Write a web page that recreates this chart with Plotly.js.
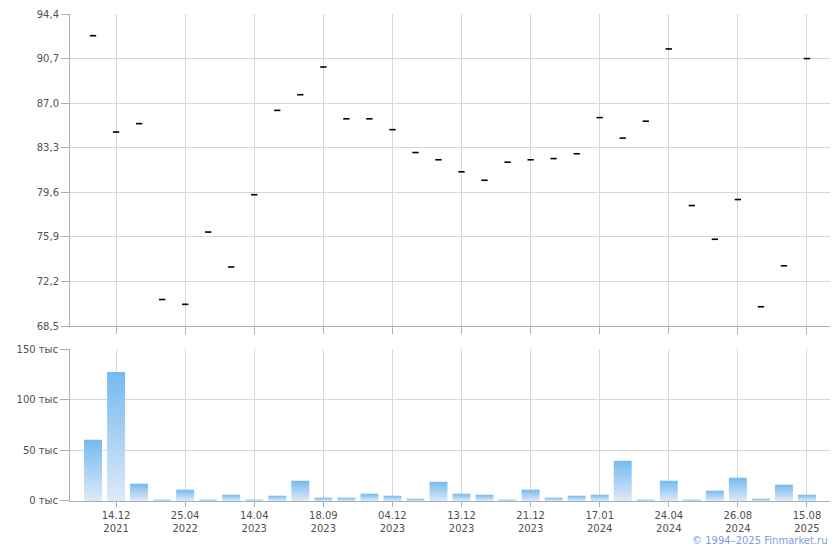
<!DOCTYPE html>
<html>
<head>
<meta charset="utf-8">
<script src="https://cdn.plot.ly/plotly-3.0.1.min.js"></script>
<style>
  html, body { margin: 0; padding: 0; background: #fff; }
  #chart { width: 840px; height: 550px; }
</style>
</head>
<body>
<div id="chart"></div>
<script>
// Closing prices (one per trading session shown)
const closes = [92.6, 84.6, 85.3, 70.7, 70.3, 76.3, 73.4, 79.4, 86.4, 87.7,
  90.0, 85.7, 85.7, 84.8, 82.9, 82.3, 81.3, 80.6, 82.1, 82.3,
  82.4, 82.8, 85.8, 84.1, 85.5, 91.5, 78.5, 75.7, 79.0, 70.1,
  73.5, 90.7];
// Volumes, thousands
const volumes = [60.5, 127.3, 17.1, 1.3, 11.2, 1.3, 6.2, 1.3, 5.2, 20.0,
  3.3, 3.3, 7.2, 5.2, 2.3, 19.0, 7.2, 6.2, 1.3, 11.2,
  3.3, 5.2, 6.2, 39.7, 1.3, 20.0, 1.3, 10.2, 23.0, 2.3,
  16.1, 6.2];
// Date tick labels (every third session)
const tickPositions = [1, 4, 7, 10, 13, 16, 19, 22, 25, 28, 31];
const tickDates = ["14.12", "25.04", "14.04", "18.09", "04.12", "13.12", "21.12", "17.01", "24.04", "26.08", "15.08"];
const tickYears = ["2021", "2022", "2023", "2023", "2023", "2023", "2023", "2024", "2024", "2024", "2025"];
const priceTicks = [68.5, 72.2, 75.9, 79.6, 83.3, 87.0, 90.7, 94.4];
const volumeTicks = [0, 50, 100, 150];

const idx = closes.map((_, i) => i);
const BAR_HALF = 0.39;

const traces = [{
  type: 'scatter', mode: 'markers',
  x: idx, y: closes, xaxis: 'x', yaxis: 'y',
  marker: { symbol: 'line-ew', size: 4.5, color: '#000', line: { width: 1.6, color: '#000' } },
  hoverinfo: 'x+y', showlegend: false
}];

volumes.forEach((v, i) => {
  const val = v * 1000;
  traces.push({
    type: 'scatter', mode: 'lines',
    x: [i - BAR_HALF, i - BAR_HALF, i + BAR_HALF, i + BAR_HALF, i - BAR_HALF],
    y: [0, val, val, 0, 0],
    xaxis: 'x2', yaxis: 'y2',
    fill: 'toself',
    fillcolor: '#a9d2f4',
    fillgradient: { type: 'vertical', colorscale: [[0, '#dde9f7'], [1, '#74baf0']] },
    line: { width: 0, color: 'rgba(0,0,0,0)' },
    hoverinfo: 'skip', showlegend: false
  });
});

const gridc = '#d3d9de';
const linec = '#a8b0b8';
const fontc = '#505050';

const layout = {
  width: 840, height: 550,
  margin: { l: 70, r: 10, t: 14, b: 49 },
  paper_bgcolor: '#fff', plot_bgcolor: '#fff',
  font: { family: 'DejaVu Sans, Verdana, sans-serif', size: 10, color: fontc },
  showlegend: false,
  xaxis: {
    domain: [0, 1], anchor: 'y', range: [-1, 32],
    tickmode: 'array', tickvals: tickPositions, showticklabels: false,
    ticks: 'outside', ticklen: 7, tickcolor: linec,
    showline: true, linecolor: linec, linewidth: 1,
    showgrid: true, gridcolor: gridc, zeroline: false
  },
  yaxis: {
    domain: [0.3593, 1], anchor: 'x', range: [68.5, 94.4],
    tickmode: 'array', tickvals: priceTicks,
    ticktext: priceTicks.map(t => t.toFixed(1).replace('.', ',')),
    ticks: 'outside', ticklen: 8, tickcolor: linec,
    showline: true, linecolor: linec, linewidth: 1,
    showgrid: true, gridcolor: gridc, zeroline: false
  },
  xaxis2: {
    domain: [0, 1], anchor: 'y2', matches: 'x', range: [-1, 32],
    tickmode: 'array', tickvals: tickPositions,
    ticktext: tickDates.map((d, i) => d + '<br>' + tickYears[i]),
    ticks: 'outside', ticklen: 5, tickcolor: linec,
    showline: true, linecolor: linec, linewidth: 1,
    showgrid: true, gridcolor: gridc, zeroline: false
  },
  yaxis2: {
    domain: [0, 0.3121], anchor: 'x2', range: [0, 150000],
    tickmode: 'array', tickvals: volumeTicks.map(t => t * 1000),
    ticktext: volumeTicks.map(t => t + ' тыс'),
    ticks: 'outside', ticklen: 9, tickcolor: linec,
    showline: true, linecolor: linec, linewidth: 1,
    showgrid: true, gridcolor: gridc, zeroline: false
  },
  annotations: [{
    xref: 'paper', yref: 'paper', x: 1, y: -0.082,
    xanchor: 'right', yanchor: 'middle', showarrow: false,
    text: '© 1994–2025 Finmarket.ru',
    font: { family: 'DejaVu Sans, Verdana, sans-serif', size: 10, color: '#7b9be6' }
  }]
};

Plotly.newPlot('chart', traces, layout, { displayModeBar: false, staticPlot: true });
</script>
</body>
</html>
